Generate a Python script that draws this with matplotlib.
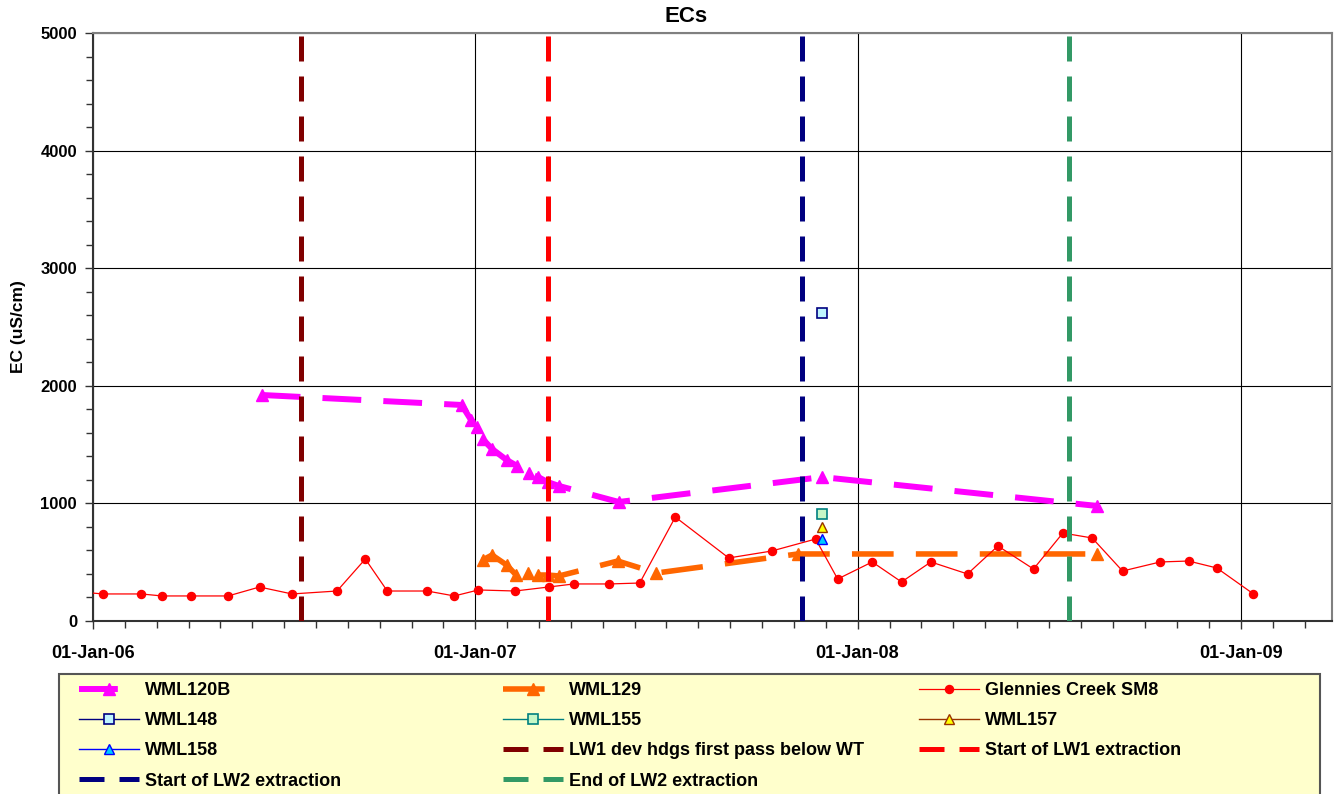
import numpy as np
import matplotlib
matplotlib.use("Agg")
import matplotlib.pyplot as plt
import matplotlib.dates as mdates
from matplotlib.patches import Rectangle

plt.rcParams['font.family'] = ['Liberation Sans', 'DejaVu Sans']
plt.rcParams['font.weight'] = 'bold'

# ---------------- data ----------------
wml120b_dates = ["2006-06-11", "2006-12-19", "2006-12-28", "2007-01-03", "2007-01-08",
                 "2007-01-17", "2007-01-31", "2007-02-10", "2007-02-21", "2007-03-02",
                 "2007-03-11", "2007-03-22", "2007-05-18", "2007-11-28", "2008-08-17"]
wml120b_ec = [1922, 1837, 1709, 1650, 1548, 1463, 1369, 1318, 1259, 1224, 1182, 1148,
              1012, 1224, 978]

wml129_dates = ["2007-01-08", "2007-01-17", "2007-01-31", "2007-02-09", "2007-02-20",
                "2007-03-02", "2007-03-11", "2007-03-22", "2007-05-17", "2007-06-23",
                "2007-11-05", "2008-08-17"]
wml129_ec = [519, 561, 476, 391, 408, 391, 391, 383, 510, 408, 570, 570]

glennies_dates = ["2005-12-14", "2006-01-11", "2006-02-16", "2006-03-08", "2006-04-05",
                  "2006-05-10", "2006-06-09", "2006-07-10", "2006-08-22", "2006-09-18",
                  "2006-10-09", "2006-11-16", "2006-12-12", "2007-01-04", "2007-02-08",
                  "2007-03-12", "2007-04-05", "2007-05-09", "2007-06-07", "2007-07-11",
                  "2007-08-31", "2007-10-11", "2007-11-22", "2007-12-13", "2008-01-15",
                  "2008-02-12", "2008-03-11", "2008-04-15", "2008-05-14", "2008-06-17",
                  "2008-07-15", "2008-08-12", "2008-09-10", "2008-10-16", "2008-11-12",
                  "2008-12-09", "2009-01-13"]
glennies_ec = [250, 230, 230, 213, 213, 213, 289, 230, 255, 527, 255, 255, 213, 264, 255,
               289, 315, 315, 323, 884, 536, 595, 697, 357, 502, 332, 502, 400, 638, 442,
               748, 706, 425, 502, 510, 451, 230]

single_date = ["2007-11-28"]
wml148_ec = [2615]
wml155_ec = [911]
wml157_ec = [800]
wml158_ec = [698]

event_labels = ["LW1 dev hdgs first pass below WT", "Start of LW1 extraction",
                "Start of LW2 extraction", "End of LW2 extraction"]
event_dates = ["2006-07-19", "2007-03-11", "2007-11-09", "2008-07-21"]
event_colors = ["#800000", "#FF0000", "#000080", "#339966"]

x_start, x_end = "2006-01-01", "2009-03-29"
y_min, y_max = 0, 5000


def d(lst):
    return np.array(lst, dtype="datetime64[D]")


# ---------------- figure ----------------
W, H = 1335, 794
fig = plt.figure(figsize=(W / 100, H / 100), dpi=100)
ax = fig.add_axes([93 / W, (H - 621) / H, (1332 - 93) / W, (621 - 33) / H])

l120, = ax.plot(d(wml120b_dates), wml120b_ec, color="#FF00FF", lw=4.3, marker="^",
                ms=9, mfc="#FF00FF", mec="#FF00FF", label="WML120B", zorder=4,
                solid_capstyle="butt")
l120.set_dashes((6.5, 3.7))
l129, = ax.plot(d(wml129_dates), wml129_ec, color="#FF6600", lw=4.0, marker="^",
                ms=9, mfc="#FF6600", mec="#FF6600", label="WML129", zorder=4)
l129.set_dashes((7.5, 4.0))
lgl, = ax.plot(d(glennies_dates), glennies_ec, color="#FF0000", lw=0.9, marker="o",
               ms=5.8, mfc="#FF0000", mec="#FF0000", label="Glennies Creek SM8", zorder=5)
l148, = ax.plot(d(single_date), wml148_ec, color="#000080", lw=1, marker="s", ms=7,
                mfc="#BFF5FF", mec="#000080", mew=1.2, label="WML148", zorder=6)
l155, = ax.plot(d(single_date), wml155_ec, color="#008080", lw=1, marker="s", ms=7,
                mfc="#C6F7C6", mec="#008080", mew=1.2, label="WML155", zorder=6)
l157, = ax.plot(d(single_date), wml157_ec, color="#993300", lw=1, marker="^", ms=7,
                mfc="#FFFF00", mec="#993300", mew=1.0, label="WML157", zorder=6)
l158, = ax.plot(d(single_date), wml158_ec, color="#0000FF", lw=1, marker="^", ms=7,
                mfc="#00CCFF", mec="#0000FF", mew=1.0, label="WML158", zorder=6)

ev_lines = []
for lab, dt_, col in zip(event_labels, event_dates, event_colors):
    ln, = ax.plot(d([dt_, dt_]), [y_min, y_max], color=col, lw=3.6, label=lab,
                  zorder=7, solid_capstyle="butt")
    ln.set_dashes((5, 3))
    ev_lines.append(ln)

# ---------------- axes ----------------
ax.set_xlim(d([x_start])[0], d([x_end])[0])
ax.set_ylim(y_min, y_max)

ax.xaxis.set_major_locator(mdates.YearLocator())
ax.xaxis.set_major_formatter(mdates.DateFormatter("%d-%b-%y"))
minor = []
for yr in range(2006, 2010):
    a = mdates.date2num(np.datetime64(f"{yr}-01-01"))
    b = mdates.date2num(np.datetime64(f"{yr + 1}-01-01"))
    minor += [a + k * (b - a) / 12 for k in range(1, 12)]
ax.xaxis.set_minor_locator(matplotlib.ticker.FixedLocator(minor))
ax.yaxis.set_major_locator(matplotlib.ticker.MultipleLocator(1000))
ax.yaxis.set_minor_locator(matplotlib.ticker.MultipleLocator(200))

ax.grid(True, which="major", color="black", lw=0.8)
ax.set_axisbelow(True)

ax.tick_params(axis="x", which="major", length=6, width=1, pad=11.5, labelsize=13,
               colors="#333333", labelcolor="black")
ax.tick_params(axis="x", which="minor", length=5, width=1, colors="#333333")
ax.tick_params(axis="y", which="major", length=6, width=1, pad=5.5, labelsize=12,
               colors="#333333", labelcolor="black")
ax.tick_params(axis="y", which="minor", length=5, width=1, colors="#333333")
for lab in ax.get_xticklabels() + ax.get_yticklabels():
    lab.set_fontweight("bold")

for s in ["left", "bottom"]:
    ax.spines[s].set_color("#333333")
    ax.spines[s].set_linewidth(1.5)
for s in ["top", "right"]:
    ax.spines[s].set_color("#808080")
    ax.spines[s].set_linewidth(1.5)

fig.text(686 / W, 1 - 17 / H, "ECs", ha="center", va="center", fontsize=16,
         fontweight="bold")
fig.text(19 / W, 1 - 327 / H, "EC (uS/cm)", ha="center", va="center", rotation=90,
         fontsize=12.5, fontweight="bold")

# ---------------- legend ----------------
fig.patches.append(Rectangle((59 / W, -0.05), (1320 - 59) / W, 1 - 674 / H + 0.05,
                             transform=fig.transFigure, facecolor="#FFFFCC",
                             edgecolor="#555555", lw=1.5, zorder=0))

cols = [
    [l120, l148, l158, ev_lines[2]],
    [l129, l155, ev_lines[0], ev_lines[3]],
    [lgl, l157, ev_lines[1]],
]
col_x = [79, 503, 919]
for handles, cx in zip(cols, col_x):
    fig.legend(handles=handles, labels=[h.get_label() for h in handles],
               loc="upper left", bbox_to_anchor=(cx / W, 1 - 682 / H),
               frameon=False, handlelength=3.3, handletextpad=0.35,
               labelspacing=0.73, borderpad=0, borderaxespad=0,
               prop={"weight": "bold", "size": 13})

fig.savefig("out.png", dpi=100)
